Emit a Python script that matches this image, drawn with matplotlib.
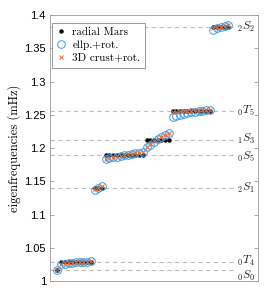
import matplotlib
matplotlib.use("Agg")
import matplotlib.pyplot as plt
import numpy as np

plt.rcParams["mathtext.fontset"] = "cm"

# multiplet names and degenerate (radial Mars) frequencies, mHz
mode_labels = [r"${}_0S_0$", r"${}_0T_4$", r"${}_2S_1$", r"${}_0S_5$",
               r"${}_1S_3$", r"${}_0T_5$", r"${}_2S_2$"]
mode_freq = [1.0165, 1.0283, 1.1400, 1.1895, 1.2120, 1.2565, 1.3815]
n_singlets = [1, 9, 3, 11, 7, 11, 5]

# ellipticity + rotation splitting
ellp_rot = [
    [1.0165],
    [1.0252, 1.0263, 1.0270, 1.0276, 1.0281, 1.0285, 1.0289, 1.0293, 1.0297],
    [1.1372, 1.1398, 1.1428],
    [1.1835, 1.1850, 1.1862, 1.1873, 1.1883, 1.1893, 1.1902, 1.1911, 1.1920, 1.1930, 1.1940],
    [1.2010, 1.2052, 1.2093, 1.2130, 1.2163, 1.2195, 1.2225],
    [1.2468, 1.2490, 1.2505, 1.2518, 1.2530, 1.2540, 1.2548, 1.2556, 1.2563, 1.2570, 1.2577],
    [1.3778, 1.3800, 1.3818, 1.3832, 1.3845],
]

# 3D crust + rotation
crust_rot = [
    [1.0167],
    [1.0258, 1.0266, 1.0272, 1.0278, 1.0282, 1.0286, 1.0290, 1.0294, 1.0298],
    [1.1378, 1.1402, 1.1430],
    [1.1842, 1.1855, 1.1866, 1.1876, 1.1886, 1.1896, 1.1905, 1.1914, 1.1923, 1.1933, 1.1942],
    [1.2020, 1.2060, 1.2100, 1.2135, 1.2168, 1.2200, 1.2232],
    [1.2545, 1.2550, 1.2555, 1.2558, 1.2561, 1.2564, 1.2567, 1.2570, 1.2573, 1.2576, 1.2580],
    [1.3800, 1.3815, 1.3828, 1.3838, 1.3848],
]

# vertical nudge of each label, in points (0S0 sits below its line)
label_dy = [-4.5, 0.8, 0, -1.5, 0.5, 0, 0]

radial = np.concatenate([[f] * n for f, n in zip(mode_freq, n_singlets)])
ellp = np.concatenate(ellp_rot)
crust = np.concatenate(crust_rot)
idx = np.arange(1, len(radial) + 1)

fig = plt.figure(figsize=(2.69, 2.91), dpi=100)
ax = fig.add_axes([0.186, 0.034, 0.773, 0.914])

for f in mode_freq:
    ax.plot([-1, 48.6], [f, f], color="#bdbdbd", linestyle=(0, (4, 3)), linewidth=0.8, zorder=1)
for f, lab, dy in zip(mode_freq, mode_labels, label_dy):
    ax.annotate(lab, xy=(49.3, f), xytext=(0, dy), textcoords="offset points",
                fontsize=8.5, ha="left", va="center", color="#222222")

ax.plot(idx, radial, linestyle="none", marker="o", markersize=2.2, color="black",
        label="radial Mars", zorder=3)
ax.plot(idx, ellp, linestyle="none", marker="o", markersize=5.5, markerfacecolor="none",
        markeredgecolor="#3d9be0", markeredgewidth=0.7, label="ellp.+rot.", zorder=4)
ax.plot(idx, crust, linestyle="none", marker="x", markersize=3.5, color="#e0703f",
        markeredgewidth=0.7, label="3D crust+rot.", zorder=5)

ax.set_xlim(-1, 55)
ax.set_ylim(1.0, 1.4)
ax.set_xticks([])
ax.set_yticks(np.arange(1.0, 1.401, 0.05))
ax.set_yticklabels(["1", "1.05", "1.1", "1.15", "1.2", "1.25", "1.3", "1.35", "1.4"],
                   fontfamily="Liberation Sans", fontsize=8)
ax.tick_params(axis="y", direction="in", length=3, width=0.5, right=True, color="#888888", pad=3)
for s in ax.spines.values():
    s.set_color("#999999")
    s.set_linewidth(0.6)

ax.set_ylabel("eigenfrequencies (mHz)", fontfamily="cmr10", fontsize=9, labelpad=2)

leg = ax.legend(loc="upper left", bbox_to_anchor=(0.0, 0.98), prop={"family": "cmr10", "size": 8},
                frameon=True, fancybox=False, framealpha=1, edgecolor="#888888",
                handlelength=0.8, handletextpad=0.6, borderpad=0.4, labelspacing=0.3,
                borderaxespad=0.2)
leg.get_frame().set_linewidth(0.6)

fig.savefig("out.png", dpi=100)
